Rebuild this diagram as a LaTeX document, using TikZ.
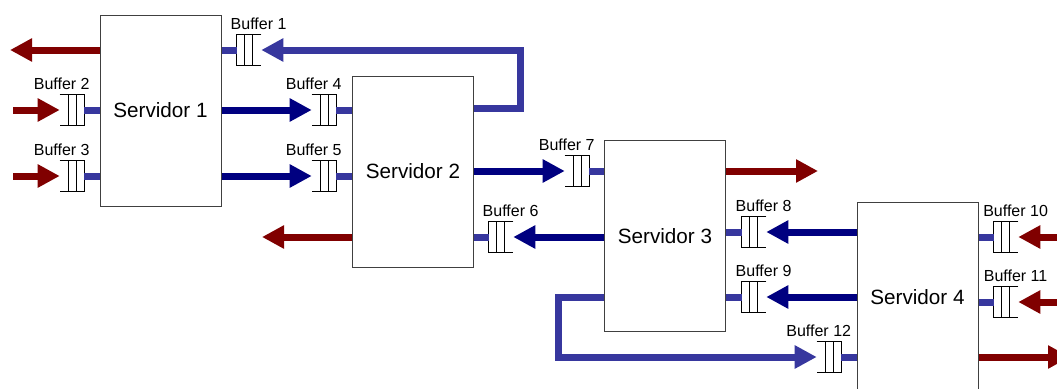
\documentclass[tikz,border=0pt]{standalone}
\usepackage{fontspec}
\setmainfont{Liberation Sans}
\usepackage{tikz}
\usetikzlibrary{arrows.meta}

\definecolor{dkred}{RGB}{128,0,0}
\definecolor{navy}{RGB}{0,0,128}
\definecolor{ltblue}{RGB}{55,55,158}

\tikzset{
  srv/.style={draw=black!75, line width=0.75pt, minimum width=90.75pt, minimum height=143.25pt,
    inner sep=0pt, font=\fontsize{15.5}{18}\selectfont},
  buf/.style={minimum width=18pt, minimum height=22.5pt, inner sep=0pt},
  bufline/.style={draw=black, line width=0.75pt},
  buflbl/.style={inner sep=0pt, font=\fontsize{12}{14}\selectfont},
  fat/.style={line width=5.25pt},
  tip/.style={-{Triangle[length=16.5pt,width=16.5pt]}},
  redarr/.style={fat, tip, draw=dkred},
  navyarr/.style={fat, tip, draw=navy},
  bluearr/.style={fat, tip, draw=ltblue},
  stub/.style={fat, draw=ltblue}
}

% buffer open to the left (arrivals from the left)
\newcommand{\bufL}[3]{%
  \node[buf] (#1) at (#2) {};
  \draw[bufline] (#1.north west) -- (#1.north east) -- (#1.south east) -- (#1.south west)
    ([xshift=-6pt]#1.north east) -- ([xshift=-6pt]#1.south east)
    ([xshift=-12pt]#1.north east) -- ([xshift=-12pt]#1.south east);
  \node[buflbl, anchor=base] (#1l) at ([xshift=1.5pt,yshift=4pt]#1.north west) {Buffer #3};
}
% buffer open to the right (arrivals from the right)
\newcommand{\bufR}[3]{%
  \node[buf] (#1) at (#2) {};
  \draw[bufline] (#1.north east) -- (#1.north west) -- (#1.south west) -- (#1.south east)
    ([xshift=6pt]#1.north west) -- ([xshift=6pt]#1.south west)
    ([xshift=12pt]#1.north west) -- ([xshift=12pt]#1.south west);
  \node[buflbl, anchor=base] (#1l) at ([xshift=-2pt,yshift=4pt]#1.north east) {Buffer #3};
}

\begin{document}
\begin{tikzpicture}[x=0.75pt,y=-0.75pt]
\clip (0,0) rectangle (1057,389);

% servidores
\node[srv] (s1) at (160.5,110.5) {Servidor 1};
\node[srv] (s2) at (413,171.5) {Servidor 2};
\node[srv] (s3) at (665,236) {Servidor 3};
\node[srv] (s4) at (917.5,297.5) {Servidor 4};

% buffers
\bufR{b1}{249,50}{1}
\bufL{b2}{72,110}{2}
\bufL{b3}{72,176}{3}
\bufL{b4}{324,110}{4}
\bufL{b5}{324,176}{5}
\bufR{b6}{501,237}{6}
\bufL{b7}{577,171}{7}
\bufR{b8}{754,232}{8}
\bufR{b9}{754,297}{9}
\bufR{b10}{1006,237}{10}
\bufR{b11}{1006,302}{11}
\bufL{b12}{829,357}{12}

% free ends and bends
\coordinate (o1) at (10,50);
\coordinate (i2) at (13,110);
\coordinate (i3) at (13,176);
\coordinate (k1) at (520,108);
\coordinate (o2) at (262,237);
\coordinate (o3) at (818,171);
\coordinate (k3) at (558,297);
\coordinate (i10) at (1075,237);
\coordinate (i11) at (1075,302);
\coordinate (o4) at (1070,357);

% servidor 1
\draw[redarr] (s1.west |- o1) -- (o1);
\draw[stub] (s1.east |- b1) -- (b1.west);
\draw[redarr] (i2) -- (b2.west);
\draw[stub] (b2.east) -- (s1.west |- b2);
\draw[redarr] (i3) -- (b3.west);
\draw[stub] (b3.east) -- (s1.west |- b3);
\draw[navyarr] (s1.east |- b4) -- (b4.west);
\draw[navyarr] (s1.east |- b5) -- (b5.west);

% servidor 2
\draw[stub] (b4.east) -- (s2.west |- b4);
\draw[stub] (b5.east) -- (s2.west |- b5);
\draw[bluearr] (s2.east |- k1) -- (k1) |- (b1.east);
\draw[redarr] (s2.west |- o2) -- (o2);
\draw[stub] (s2.east |- b6) -- (b6.west);
\draw[navyarr] (s2.east |- b7) -- (b7.west);

% servidor 3
\draw[stub] (b7.east) -- (s3.west |- b7);
\draw[navyarr] (s3.west |- b6) -- (b6.east);
\draw[redarr] (s3.east |- o3) -- (o3);
\draw[stub] (s3.east |- b8) -- (b8.west);
\draw[stub] (s3.east |- b9) -- (b9.west);
\draw[bluearr] (s3.west |- k3) -- (k3) |- (b12.west);

% servidor 4
\draw[navyarr] (s4.west |- b8) -- (b8.east);
\draw[navyarr] (s4.west |- b9) -- (b9.east);
\draw[stub] (b12.east) -- (s4.west |- b12);
\draw[stub] (s4.east |- b10) -- (b10.west);
\draw[stub] (s4.east |- b11) -- (b11.west);
\draw[redarr] (i10) -- (b10.east);
\draw[redarr] (i11) -- (b11.east);
\draw[redarr] (s4.east |- o4) -- (o4);
\end{tikzpicture}
\end{document}
